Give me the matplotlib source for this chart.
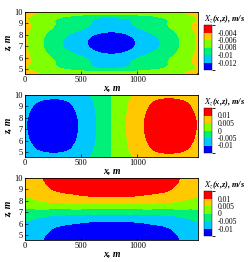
import numpy as np
import matplotlib
matplotlib.use('Agg')
import matplotlib.pyplot as plt
import matplotlib.tri as mtri
from matplotlib.colors import ListedColormap, BoundaryNorm
from matplotlib.cm import ScalarMappable

plt.rcParams['font.family'] = ['Liberation Serif', 'DejaVu Serif']
plt.rcParams['mathtext.fontset'] = 'stix'

# grid nodes (m)
x_nodes = [0, 77, 231, 385, 539, 770, 1001, 1155, 1309, 1463, 1540]
z_nodes = [4.6, 4.87, 5.52, 6.38, 7.3, 8.22, 9.08, 9.73, 10.0]

# X_z values in mm/s, rows = z_nodes (bottom to top), columns = x_nodes
panel1_mms = [
    [-3.8, -5.6, -5.6, -5.6, -5.6, -5.6, -5.6, -5.6, -5.6, -5.6, -3.8],
    [-5.6, -6.07, -6.91, -7.53, -8.10, -8.72, -8.10, -7.53, -6.91, -6.07, -5.6],
    [-5.6, -6.36, -7.73, -8.74, -9.66, -10.67, -9.66, -8.74, -7.73, -6.36, -5.6],
    [-5.6, -6.58, -8.35, -9.66, -10.84, -12.15, -10.84, -9.66, -8.35, -6.58, -5.6],
    [-5.6, -6.77, -8.88, -10.44, -11.84, -13.40, -11.84, -10.44, -8.88, -6.77, -5.6],
    [-5.6, -6.58, -8.35, -9.66, -10.84, -12.15, -10.84, -9.66, -8.35, -6.58, -5.6],
    [-5.6, -6.36, -7.73, -8.74, -9.66, -10.67, -9.66, -8.74, -7.73, -6.36, -5.6],
    [-5.6, -6.07, -6.91, -7.53, -8.10, -8.72, -8.10, -7.53, -6.91, -6.07, -5.6],
    [-3.8, -5.6, -5.6, -5.6, -5.6, -5.6, -5.6, -5.6, -5.6, -5.6, -3.8],
]
panel2_mms = [
    [-6.69, -7.73, -8.63, -8.14, -5.73, 0, 5.73, 8.14, 8.63, 7.73, 6.69],
    [-7.57, -8.74, -9.75, -9.20, -6.47, 0, 6.47, 9.20, 9.75, 8.74, 7.57],
    [-8.73, -10.08, -11.25, -10.62, -7.47, 0, 7.47, 10.62, 11.25, 10.08, 8.73],
    [-9.41, -10.86, -12.13, -11.45, -8.05, 0, 8.05, 11.45, 12.13, 10.86, 9.41],
    [-9.70, -11.20, -12.50, -11.80, -8.30, 0, 8.30, 11.80, 12.50, 11.20, 9.70],
    [-9.41, -10.86, -12.13, -11.45, -8.05, 0, 8.05, 11.45, 12.13, 10.86, 9.41],
    [-8.73, -10.08, -11.25, -10.62, -7.47, 0, 7.47, 10.62, 11.25, 10.08, 8.73],
    [-7.57, -8.74, -9.75, -9.20, -6.47, 0, 6.47, 9.20, 9.75, 8.74, 7.57],
    [-6.69, -7.73, -8.63, -8.14, -5.73, 0, 5.73, 8.14, 8.63, 7.73, 6.69],
]
panel3_mms = [
    [-7.25, -8.27, -11.31, -12.76, -13.92, -14.50, -13.92, -12.76, -11.31, -8.27, -7.25],
    [-7.10, -8.09, -11.08, -12.50, -13.63, -14.20, -13.63, -12.50, -11.08, -8.09, -7.10],
    [-6.40, -7.30, -9.98, -11.26, -12.29, -12.80, -12.29, -11.26, -9.98, -7.30, -6.40],
    [-4.50, -5.13, -7.02, -7.92, -8.64, -9.00, -8.64, -7.92, -7.02, -5.13, -4.50],
    [0, 0, 0, 0, 0, 0, 0, 0, 0, 0, 0],
    [4.50, 5.13, 7.02, 7.92, 8.64, 9.00, 8.64, 7.92, 7.02, 5.13, 4.50],
    [6.40, 7.30, 9.98, 11.26, 12.29, 12.80, 12.29, 11.26, 9.98, 7.30, 6.40],
    [7.10, 8.09, 11.08, 12.50, 13.63, 14.20, 13.63, 12.50, 11.08, 8.09, 7.10],
    [7.25, 8.27, 11.31, 12.76, 13.92, 14.50, 13.92, 12.76, 11.31, 8.27, 7.25],
]

levels1 = [-0.020, -0.012, -0.010, -0.008, -0.006, -0.004, 0.0]
ticks1 = ['-0.004', '-0.006', '-0.008', '-0.01', '-0.012']
levels23 = [-0.020, -0.010, -0.005, 0.0, 0.005, 0.010, 0.020]
ticks23 = ['0.01', '0.005', '0', '-0.005', '-0.01']

colors = ['#0000ff', '#00c8ff', '#00f07a', '#80ff00', '#ffc800', '#ff0000']

W, H = 249, 262
fig = plt.figure(figsize=(W / 100, H / 100), dpi=100)

Xg, Zg = np.meshgrid(x_nodes, z_nodes)
tri = mtri.Triangulation(Xg.ravel(), Zg.ravel())
refiner = mtri.UniformTriRefiner(tri)

panels = [(panel1_mms, levels1, ticks1), (panel2_mms, levels23, ticks23),
          (panel3_mms, levels23, ticks23)]
tops = [12, 95, 178]
cb_tops = [25, 108, 191]

for (vals, levels, tlabels), top, cbt in zip(panels, tops, cb_tops):
    ax = fig.add_axes([25 / W, 1 - (top + 62) / H, 173 / W, 62 / H])
    v = np.array(vals) / 1000.0
    tri_f, v_f = refiner.refine_field(v.ravel(), subdiv=4)
    ax.tricontourf(tri_f, v_f, levels=levels, colors=colors)
    ax.set_xlim(0, 1540)
    ax.set_ylim(4.6, 10)
    ax.set_xticks([0, 500, 1000])
    ax.set_yticks([5, 6, 7, 8, 9, 10])
    ax.tick_params(direction='in', length=2, width=0.5, labelsize=6, pad=1.5)
    for s in ax.spines.values():
        s.set_linewidth(0.6)
    ax.set_xlabel('x, m', fontsize=7, fontstyle='italic', fontweight='bold', labelpad=-0.5)
    ax.set_ylabel('z, m', fontsize=7, fontstyle='italic', fontweight='bold', labelpad=1)

    cax = fig.add_axes([204 / W, 1 - (cbt + 45) / H, 8 / W, 45 / H])
    cmap = ListedColormap(colors)
    norm = BoundaryNorm(levels, cmap.N)
    cb = fig.colorbar(ScalarMappable(norm=norm, cmap=cmap), cax=cax,
                      spacing='uniform', ticks=levels[1:-1])
    cb.set_ticklabels(tlabels[::-1])
    cb.outline.set_linewidth(0.3)
    cax.tick_params(length=0, labelsize=5.5, pad=4)
    fig.text(204 / W, 1 - (cbt - 6) / H, r'$X_z$(x,z), m/s', fontsize=6,
             fontstyle='italic', fontweight='bold', va='center', ha='left')

fig.savefig('out.png', dpi=100)
